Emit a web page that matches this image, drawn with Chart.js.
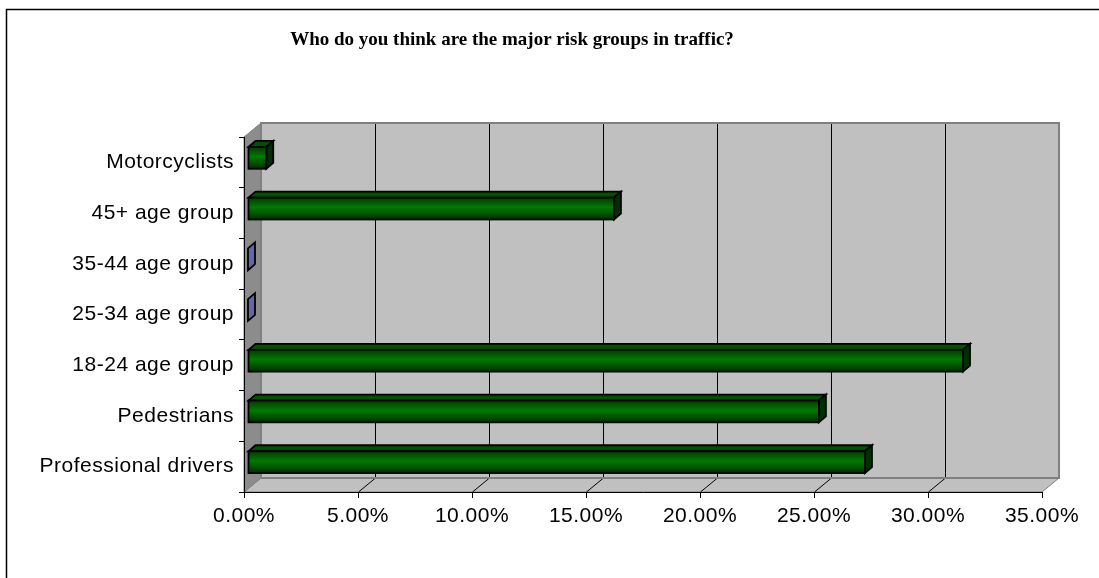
<!DOCTYPE html>
<html>
<head>
<meta charset="utf-8">
<title>Major risk groups in traffic</title>
<script src="https://cdn.jsdelivr.net/npm/chart.js@4.4.1/dist/chart.umd.min.js"></script>
<style>
  html, body { margin: 0; padding: 0; background: #fff; }
  #riskChart { display: block; }
</style>
</head>
<body>
<canvas id="riskChart" width="1099" height="578"></canvas>
<script>
const chartTitle = "Who do you think are the major risk groups in traffic?";
const groups = ["Motorcyclists", "45+ age group", "35-44 age group", "25-34 age group", "18-24 age group", "Pedestrians", "Professional drivers"];
const shares = [0.008, 0.1605, 0, 0, 0.3136, 0.2504, 0.2706];
const xTicks = [0, 0.05, 0.10, 0.15, 0.20, 0.25, 0.30, 0.35];

// 3d box depth, and where the bars sit inside it
const DEPTH_X = 17, DEPTH_Y = -14;
const BAR_SHIFT_X = 4, BAR_SHIFT_Y = -4.5;
const BAR_DX = 7, BAR_DY = -6;

const FONT = "'Liberation Sans', Arial, sans-serif";

function poly(ctx, pts, fill, stroke) {
    ctx.beginPath();
    ctx.moveTo(pts[0][0], pts[0][1]);
    for (let i = 1; i < pts.length; i++) ctx.lineTo(pts[i][0], pts[i][1]);
    ctx.closePath();
    if (fill) { ctx.fillStyle = fill; ctx.fill(); }
    if (stroke) { ctx.strokeStyle = stroke; ctx.stroke(); }
}

const box3d = {
    id: "box3d",
    beforeDraw(chart) {
        const { ctx, chartArea: a, scales } = chart;
        const xs = scales.x;
        ctx.letterSpacing = "0.5px"; // excel spreads its labels a little

        ctx.save();
        ctx.fillStyle = "#fff";
        ctx.fillRect(0, 0, chart.width, chart.height);

        // outer frame (only left and top edges show)
        ctx.strokeStyle = "#000";
        ctx.lineWidth = 1.5;
        ctx.strokeRect(6.5, 9.5, chart.width + 50, chart.height + 50);

        ctx.letterSpacing = "0px";
        ctx.fillStyle = "#000";
        ctx.font = "bold 19px 'Liberation Serif', 'Times New Roman', serif";
        ctx.textAlign = "center";
        ctx.textBaseline = "alphabetic";
        ctx.fillText(chartTitle, 512, 45);

        // back wall
        ctx.lineWidth = 1;
        ctx.fillStyle = "#c0c0c0";
        ctx.fillRect(a.left + DEPTH_X, a.top + DEPTH_Y, a.right - a.left, a.bottom - a.top);

        // floor
        poly(ctx, [
            [a.left, a.bottom], [a.right, a.bottom],
            [a.right + DEPTH_X, a.bottom + DEPTH_Y], [a.left + DEPTH_X, a.bottom + DEPTH_Y]
        ], "#c0c0c0", "#808080");

        // left wall
        poly(ctx, [
            [a.left, a.top], [a.left + DEPTH_X, a.top + DEPTH_Y],
            [a.left + DEPTH_X, a.bottom + DEPTH_Y], [a.left, a.bottom]
        ], "#8c8c8c", "#808080");

        // grid lines on back wall and floor
        ctx.strokeStyle = "#000";
        ctx.lineWidth = 1;
        xTicks.forEach((v, i) => {
            if (i === 0 || i === xTicks.length - 1) return;
            const px = Math.round(xs.getPixelForValue(v)) + 0.5;
            ctx.beginPath();
            ctx.moveTo(px + DEPTH_X, a.top + DEPTH_Y);
            ctx.lineTo(px + DEPTH_X, a.bottom + DEPTH_Y);
            ctx.lineTo(px, a.bottom);
            ctx.stroke();
        });

        ctx.strokeStyle = "#808080";
        ctx.lineWidth = 2;
        ctx.strokeRect(a.left + DEPTH_X, a.top + DEPTH_Y, a.right - a.left, a.bottom - a.top);
        ctx.restore();
    },
    afterDatasetsDraw(chart) {
        const ctx = chart.ctx;
        const meta = chart.getDatasetMeta(0);
        ctx.save();
        ctx.lineWidth = 1.8;
        ctx.lineJoin = "miter";
        meta.data.forEach((bar, i) => {
            const { x, y, base, height } = bar.getProps(["x", "y", "base", "height"], true);
            const l = base + BAR_SHIFT_X, r = x + BAR_SHIFT_X;
            const t = y - height / 2 + BAR_SHIFT_Y, b = y + height / 2 + BAR_SHIFT_Y;
            const side = [[r, t], [r + BAR_DX, t + BAR_DY], [r + BAR_DX, b + BAR_DY], [r, b]];

            if (shares[i] === 0) {
                poly(ctx, side, "#6666a8", "#000");
                return;
            }

            poly(ctx, [[l, t], [r, t], [r + BAR_DX, t + BAR_DY], [l + BAR_DX, t + BAR_DY]], "#005200", "#000");
            poly(ctx, side, "#003000", "#000");

            const g = ctx.createLinearGradient(0, t, 0, b);
            g.addColorStop(0, "#003c00");
            g.addColorStop(0.45, "#007a00");
            g.addColorStop(1, "#002e00");
            ctx.fillStyle = g;
            ctx.fillRect(l, t, r - l, b - t);
            ctx.strokeStyle = "#000";
            ctx.strokeRect(l, t, r - l, b - t);
        });
        ctx.restore();
    }
};

new Chart(document.getElementById("riskChart"), {
    type: "bar",
    data: {
        labels: groups,
        datasets: [{
            label: "Share",
            data: shares,
            backgroundColor: "rgba(0,0,0,0)",
            borderWidth: 0,
            categoryPercentage: 1,
            barPercentage: 0.43
        }]
    },
    options: {
        indexAxis: "y",
        responsive: false,
        animation: false,
        events: [],
        layout: { padding: { top: 137, right: 57, left: 0, bottom: 0 } },
        scales: {
            x: {
                min: 0,
                max: 0.35,
                afterBuildTicks: s => { s.ticks = xTicks.map(v => ({ value: v })); },
                afterFit: s => { s.height = 86; },
                ticks: {
                    color: "#000",
                    font: { family: FONT, size: 21 },
                    padding: 6,
                    autoSkip: false,
                    maxRotation: 0,
                    callback: v => (v * 100).toFixed(2) + "%"
                },
                grid: { drawOnChartArea: false, tickLength: 6, color: "#000" },
                border: { color: "#000", width: 1 }
            },
            y: {
                afterFit: s => { s.width = 244; },
                ticks: {
                    color: "#000",
                    font: { family: FONT, size: 21 },
                    padding: 5
                },
                grid: { drawOnChartArea: false, tickLength: 5, color: "#000", offset: true },
                border: { color: "#000", width: 1 }
            }
        },
        plugins: {
            legend: { display: false },
            tooltip: { enabled: false },
            title: { display: false }
        }
    },
    plugins: [box3d]
});
</script>
</body>
</html>
